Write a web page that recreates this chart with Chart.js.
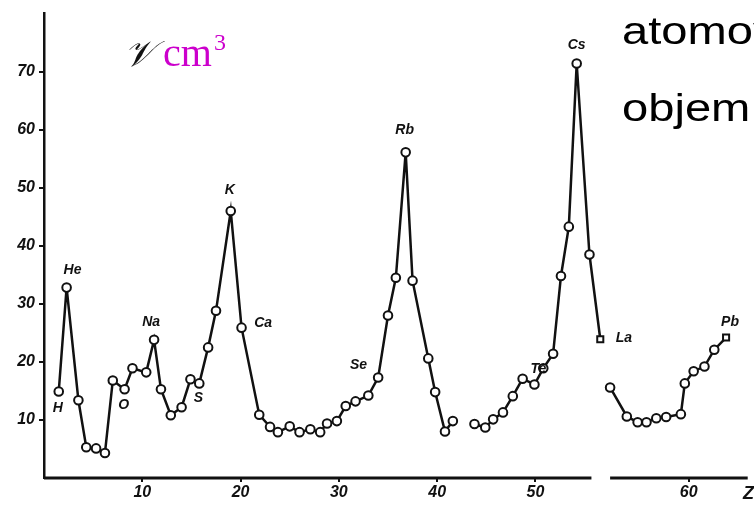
<!DOCTYPE html>
<html>
<head>
<meta charset="utf-8">
<script src="https://cdn.jsdelivr.net/npm/chart.js@4"></script>
<style>
  html, body { margin:0; padding:0; background:#fff; }
  #wrap { position:relative; width:754px; height:505px; }
</style>
</head>
<body>
<div id="wrap"><canvas id="chartVolumen" width="754" height="505"></canvas></div>
<script>
// atomic number position on the drawn axis (axis is broken after La)
const posZ = [1.5,2.3,3.5,4.3,5.3,6.2,7.0,8.2,9.0,10.4,11.2,11.9,12.9,14.0,14.9,15.8,16.7,17.5,19.0,20.1,
  21.9,23.0,23.8,25.0,26.0,27.1,28.1,28.8,29.8,30.7,31.7,33.0,34.0,35.0,35.8,36.8,37.5,39.1,39.8,40.8,41.6,
  42.7,
  43.8,44.9,45.7,46.7,47.7,48.7,49.9,50.8,51.8,52.6,53.4,54.2,55.5,56.6,
  57.1,
  57.6,59.3,60.4,61.3,62.3,63.3,64.8,65.2,66.1,67.2,68.2,69.4];
// atomic volume, cm3 (null = break in the line)
const atomVolume = [14.9,32.8,13.4,5.3,5.1,4.3,16.8,15.3,18.9,18.2,23.8,15.3,10.8,12.2,17.0,16.3,22.5,28.8,46.0,25.9,
  10.9,8.8,7.9,8.9,7.9,8.4,7.9,9.4,9.8,12.4,13.2,14.2,17.3,28.0,34.5,56.1,34.0,20.6,14.8,8.0,9.8,
  null,
  9.3,8.7,10.1,11.3,14.1,17.1,16.1,18.9,21.4,34.8,43.3,71.4,38.5,23.9,
  null,
  15.6,10.6,9.6,9.6,10.3,10.5,11.0,16.3,18.4,19.2,22.1,24.2];
const squareIdx = [55, 68]; // La, Pb

const yTicks = [10,20,30,40,50,60,70];
const xTickPos = [10,20,30,40,50,65.6];
const xTickLabels = ['10','20','30','40','50','60'];
const xAxisParts = [[0,55.7],[57.6,71.6]];

// element names [name, z position, volume position]
const elemNames = [['He',2.9,35.8],['H',1.4,12.0],['Na',10.9,26.9],['O',8.1,12.5],['S',15.7,13.8],
  ['K',18.9,49.6],['Ca',22.3,26.7],['Se',32.0,19.4],['Rb',36.7,60.0],['Cs',54.2,74.6],
  ['Te',50.3,18.8],['La',59.0,24.1],['Pb',69.8,26.8]];

const ink = '#111';

const extras = {
  id:'extras',
  afterDraw(chart){
    const c = chart.ctx, xs = chart.scales.x, ys = chart.scales.y;
    c.save();
    // broken x axis
    c.strokeStyle = ink; c.lineWidth = 3;
    xAxisParts.forEach(p=>{
      c.beginPath();
      c.moveTo(xs.getPixelForValue(p[0]), ys.bottom);
      c.lineTo(xs.getPixelForValue(p[1]), ys.bottom);
      c.stroke();
    });
    // element labels
    c.fillStyle = ink;
    c.font = 'italic bold 14px "Liberation Sans"';
    c.textAlign = 'center'; c.textBaseline = 'middle';
    elemNames.forEach(e=>{
      c.fillText(e[0], xs.getPixelForValue(e[1]), ys.getPixelForValue(e[2]));
    });
    // Z axis name
    c.font = 'italic bold 18px "Liberation Sans"';
    c.textAlign = 'left';
    c.fillText('Z', 743, 494);
    // unit label
    c.textBaseline = 'alphabetic';
    c.font = 'italic 36px "Liberation Serif"';
    c.fillText('𝒱', 124, 66);
    c.fillStyle = '#cc00cc';
    c.font = '40px "Liberation Serif"';
    c.fillText('cm', 163, 66);
    c.font = '24px "Liberation Serif"';
    c.fillText('3', 214, 50);
    // side text (slightly wide lettering)
    c.fillStyle = '#000';
    c.font = '38px "Liberation Sans"';
    c.translate(622, 0);
    c.scale(1.24, 1);
    c.fillText('atomový', 0, 44);
    c.fillText('objem', 0, 121);
    c.restore();
  }
};

const ctx = document.getElementById('chartVolumen');
new Chart(ctx, {
  type:'line',
  data:{
    datasets:[{
      data: posZ.map((z,i)=>({x:z, y:atomVolume[i]})),
      borderColor: ink,
      borderWidth: 2.5,
      pointRadius: 4.3,
      pointBorderWidth: 2,
      pointBackgroundColor: '#fff',
      pointBorderColor: ink,
      pointStyle: posZ.map((z,i)=> squareIdx.includes(i) ? 'rect' : 'circle'),
      spanGaps: false,
      tension: 0
    }]
  },
  options:{
    responsive:false,
    animation:false,
    layout:{ padding:{ top:13, right:0, left:0, bottom:0 } },
    plugins:{ legend:{display:false}, tooltip:{enabled:false} },
    scales:{
      x:{
        type:'linear', min:0, max:71.6,
        afterBuildTicks: s => { s.ticks = xTickPos.map(v=>({value:v})); },
        afterFit: s => { s.height = 27; },
        border:{ display:false },
        grid:{ drawOnChartArea:false, drawTicks:true, tickLength:4, color:ink, lineWidth:2 },
        ticks:{ callback:(v,i)=>xTickLabels[i], color:ink, padding:1, maxRotation:0, autoSkip:false,
          font:{ family:'"Liberation Sans"', style:'italic', weight:'bold', size:16 } }
      },
      y:{
        min:0, max:80,
        afterBuildTicks: s => { s.ticks = yTicks.map(v=>({value:v})); },
        afterFit: s => { s.width = 44; },
        border:{ display:true, color:ink, width:2.5 },
        grid:{ drawOnChartArea:false, drawTicks:true, tickLength:5, color:ink, lineWidth:2 },
        ticks:{ color:ink, padding:4,
          font:{ family:'"Liberation Sans"', style:'italic', weight:'bold', size:16 } }
      }
    }
  },
  plugins:[extras]
});
</script>
</body>
</html>
